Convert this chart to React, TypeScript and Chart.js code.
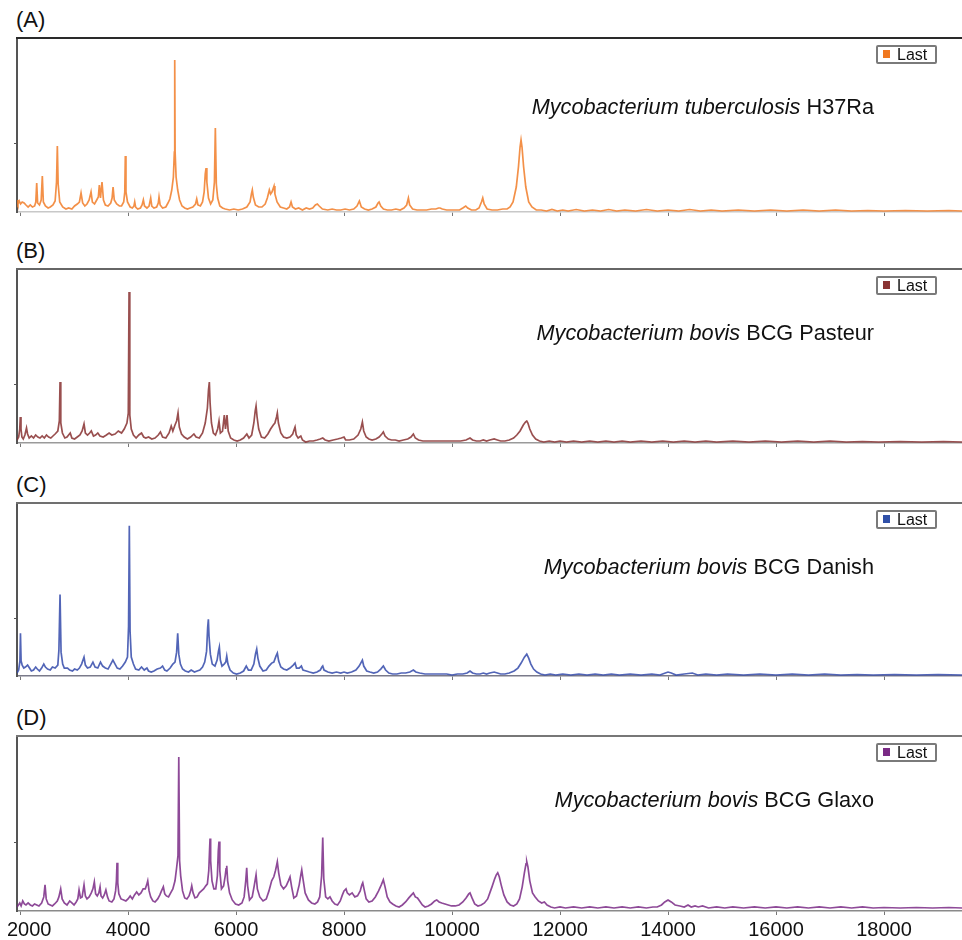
import React, { useEffect, useRef } from "react";
import { Chart, registerables } from "chart.js";

Chart.register(...registerables);
Chart.defaults.font.family = "'Liberation Sans', Arial, Helvetica, sans-serif";

// ---- axis data ----
const xMin = 1944;
const xMax = 19444;
const xTicks = [2000, 4000, 6000, 8000, 10000, 12000, 14000, 16000, 18000];
const yMax = 174;

// ---- spectra: [m/z, intensity (a.u.)] ----
const spectrumA = [
  [1944, 12], [1962, 8], [1985, 11], [2010, 8], [2040, 10], [2075, 9], [2110, 7], [2150, 5], [2190, 7], [2230, 5],
  [2270, 6], [2292, 10], [2309, 29], [2326, 9], [2360, 7], [2392, 12], [2413, 36], [2432, 10], [2470, 6], [2520, 4],
  [2560, 5], [2610, 7], [2650, 11], [2676, 30], [2691, 66], [2706, 28], [2735, 10], [2790, 5], [2850, 3], [2900, 4],
  [2960, 3], [3010, 6], [3060, 8], [3100, 10], [3130, 19], [3160, 9], [3200, 6], [3240, 8], [3280, 12], [3315, 20],
  [3340, 10], [3380, 8], [3420, 12], [3450, 15], [3469, 27], [3490, 14], [3518, 30], [3545, 12], [3580, 7], [3630, 6],
  [3680, 9], [3705, 14], [3723, 25], [3745, 12], [3790, 8], [3840, 6], [3880, 6], [3920, 10], [3940, 20], [3950, 56],
  [3962, 20], [3990, 10], [4040, 5], [4080, 4], [4110, 6], [4124, 10], [4140, 5], [4180, 3], [4230, 4], [4260, 7],
  [4284, 12], [4305, 6], [4350, 4], [4390, 6], [4420, 14], [4440, 6], [4480, 4], [4530, 5], [4560, 9], [4574, 15],
  [4595, 7], [4640, 4], [4700, 5], [4740, 9], [4775, 13], [4810, 22], [4840, 35], [4858, 60], [4865, 152], [4872, 60],
  [4890, 35], [4920, 22], [4955, 12], [5000, 6], [5050, 4], [5100, 3], [5150, 4], [5200, 5], [5250, 8], [5272, 13],
  [5295, 7], [5340, 6], [5380, 10], [5410, 20], [5430, 38], [5445, 44], [5460, 30], [5490, 14], [5530, 8], [5570, 12],
  [5600, 30], [5617, 84], [5635, 28], [5660, 14], [5700, 6], [5750, 4], [5800, 3], [5880, 2], [5960, 3], [6040, 2],
  [6120, 3], [6200, 5], [6260, 10], [6285, 18], [6302, 22], [6320, 15], [6360, 7], [6420, 5], [6480, 5], [6540, 8],
  [6580, 14], [6617, 22], [6640, 18], [6665, 20], [6704, 26], [6720, 18], [6760, 10], [6820, 5], [6880, 4], [6940, 3],
  [6990, 5], [7019, 10], [7045, 5], [7100, 3], [7160, 4], [7230, 2], [7300, 4], [7360, 3], [7420, 4], [7470, 7],
  [7506, 8], [7540, 6], [7600, 3], [7700, 2], [7780, 3], [7860, 2], [7940, 2], [8020, 3], [8100, 2], [8180, 3],
  [8240, 6], [8284, 11], [8320, 5], [8380, 3], [8450, 2], [8520, 3], [8590, 5], [8630, 9], [8649, 10], [8680, 6],
  [8730, 3], [8800, 2], [8880, 2], [8960, 3], [9040, 2], [9110, 4], [9160, 7], [9192, 14], [9215, 7], [9270, 3],
  [9350, 2], [9440, 2], [9530, 2], [9620, 3], [9700, 3], [9750, 4], [9778, 4], [9820, 3], [9900, 2], [9980, 2],
  [10060, 2], [10140, 2], [10200, 4], [10254, 6], [10290, 4], [10360, 2], [10440, 2], [10500, 4], [10545, 10], [10569, 14],
  [10595, 8], [10650, 3], [10740, 2], [10840, 2], [10940, 3], [11020, 3], [11075, 5], [11130, 10], [11190, 25], [11230, 45],
  [11260, 65], [11278, 72], [11296, 65], [11326, 45], [11366, 25], [11420, 10], [11480, 5], [11560, 2], [11650, 2], [11750, 1],
  [11850, 2.5], [11950, 1], [12050, 2], [12150, 1], [12300, 2.5], [12450, 1], [12600, 2], [12750, 1], [12900, 2.5], [13050, 1],
  [13200, 2], [13400, 1], [13600, 2.5], [13800, 1], [14000, 2], [14200, 1], [14400, 2.5], [14600, 1], [14800, 2], [15000, 1],
  [15300, 2], [15600, 1], [15900, 2], [16200, 1], [16500, 2], [16800, 1], [17100, 2], [17400, 1], [17700, 1.5], [18000, 1],
  [18400, 1.5], [18800, 1], [19200, 1.5], [19444, 1],
];

const spectrumB = [
  [1944, 3], [1975, 6], [1995, 14], [2005, 26], [2018, 14], [2035, 6], [2060, 4], [2090, 8], [2120, 15], [2140, 9],
  [2170, 5], [2210, 7], [2250, 5], [2290, 8], [2330, 6], [2370, 5], [2410, 7], [2450, 5], [2490, 8], [2530, 6],
  [2570, 5], [2610, 7], [2650, 9], [2700, 12], [2728, 22], [2741, 61], [2755, 20], [2785, 10], [2830, 5], [2870, 6],
  [2930, 10], [2960, 5], [3010, 4], [3060, 6], [3110, 8], [3150, 12], [3185, 19], [3210, 10], [3250, 8], [3290, 10],
  [3320, 12], [3360, 7], [3400, 8], [3440, 10], [3480, 7], [3540, 6], [3600, 8], [3650, 10], [3700, 8], [3760, 9],
  [3820, 12], [3880, 10], [3930, 14], [3980, 20], [4005, 30], [4019, 151], [4033, 28], [4060, 14], [4100, 8], [4150, 5],
  [4200, 8], [4250, 10], [4290, 6], [4330, 5], [4380, 6], [4440, 4], [4500, 5], [4560, 8], [4600, 11], [4640, 6],
  [4700, 5], [4760, 10], [4800, 17], [4830, 12], [4870, 18], [4900, 22], [4926, 30], [4950, 16], [4990, 9], [5040, 6],
  [5100, 4], [5160, 6], [5220, 9], [5260, 6], [5320, 5], [5380, 10], [5430, 20], [5470, 35], [5490, 53], [5506, 61],
  [5520, 40], [5545, 20], [5580, 10], [5620, 8], [5660, 14], [5685, 22], [5710, 10], [5750, 12], [5783, 28], [5805, 14],
  [5833, 28], [5855, 12], [5900, 5], [5960, 3], [6020, 2], [6080, 3], [6140, 5], [6200, 9], [6240, 5], [6290, 8],
  [6330, 20], [6355, 32], [6371, 37], [6390, 26], [6420, 14], [6470, 6], [6530, 5], [6590, 9], [6640, 14], [6690, 18],
  [6720, 20], [6750, 26], [6765, 30], [6785, 20], [6830, 10], [6880, 6], [6940, 5], [7000, 6], [7050, 9], [7080, 14],
  [7093, 16], [7115, 8], [7150, 5], [7200, 7], [7230, 3], [7290, 1], [7360, 2], [7430, 2], [7500, 3], [7560, 4],
  [7606, 5], [7650, 3], [7720, 2], [7800, 3], [7880, 4], [7950, 5], [8000, 6], [8030, 3], [8100, 3], [8180, 4],
  [8260, 8], [8310, 14], [8340, 21], [8365, 12], [8410, 6], [8460, 4], [8520, 3], [8590, 4], [8650, 6], [8700, 9],
  [8728, 11], [8760, 7], [8820, 4], [8880, 3], [8950, 3], [9020, 2], [9100, 3], [9180, 4], [9240, 6], [9284, 9],
  [9320, 5], [9380, 3], [9460, 2], [9560, 2], [9660, 2], [9760, 2], [9860, 2], [9960, 2], [10060, 2], [10160, 2],
  [10260, 3], [10333, 5], [10380, 3], [10450, 2], [10520, 2], [10580, 3], [10640, 2], [10700, 3], [10780, 4], [10840, 3],
  [10900, 2], [10980, 2], [11060, 3], [11140, 5], [11200, 8], [11260, 12], [11320, 18], [11360, 21], [11384, 22], [11405, 20],
  [11440, 14], [11490, 8], [11550, 4], [11620, 2], [11700, 1], [11800, 2], [11900, 1], [12000, 2], [12120, 1], [12250, 2],
  [12400, 1], [12550, 2], [12700, 1], [12850, 2], [13000, 1], [13150, 2], [13300, 1], [13500, 2], [13700, 1], [13900, 2],
  [14100, 1], [14300, 2], [14500, 1], [14700, 2], [14900, 1], [15200, 2], [15500, 1], [15800, 2], [16100, 1], [16400, 2],
  [16700, 1], [17000, 2], [17300, 1], [17600, 1.5], [17900, 1], [18300, 1.5], [18700, 1], [19100, 1.5], [19444, 1],
];

const spectrumC = [
  [1944, 3], [1975, 6], [1998, 15], [2008, 43], [2020, 15], [2040, 11], [2070, 8], [2100, 9], [2140, 11], [2175, 8],
  [2210, 5], [2250, 6], [2290, 9], [2320, 7], [2360, 5], [2400, 8], [2440, 12], [2470, 9], [2510, 7], [2560, 6],
  [2600, 9], [2650, 8], [2700, 11], [2720, 26], [2741, 82], [2760, 24], [2790, 12], [2820, 8], [2880, 8], [2920, 6],
  [2970, 5], [3010, 7], [3060, 6], [3100, 8], [3140, 12], [3185, 19], [3210, 11], [3250, 8], [3300, 9], [3350, 14],
  [3390, 9], [3440, 8], [3490, 14], [3530, 10], [3580, 8], [3630, 7], [3680, 12], [3720, 16], [3760, 12], [3800, 8],
  [3850, 7], [3900, 10], [3950, 14], [3990, 19], [4010, 50], [4024, 151], [4038, 45], [4060, 19], [4100, 12], [4140, 7],
  [4200, 6], [4250, 9], [4300, 6], [4350, 8], [4380, 5], [4430, 4], [4480, 5], [4540, 7], [4600, 8], [4640, 10],
  [4680, 6], [4720, 5], [4780, 8], [4830, 12], [4870, 14], [4900, 24], [4920, 43], [4940, 22], [4970, 12], [5010, 7],
  [5060, 5], [5120, 4], [5170, 6], [5230, 4], [5280, 5], [5330, 6], [5380, 9], [5420, 14], [5455, 25], [5475, 49],
  [5488, 57], [5500, 40], [5525, 22], [5560, 12], [5610, 10], [5650, 16], [5675, 25], [5691, 29], [5710, 16], [5740, 10],
  [5780, 12], [5810, 14], [5828, 20], [5850, 12], [5890, 6], [5950, 3], [6010, 2], [6080, 3], [6140, 5], [6190, 10],
  [6230, 6], [6280, 6], [6330, 12], [6360, 22], [6383, 27], [6405, 18], [6440, 10], [6500, 5], [6560, 6], [6610, 10],
  [6660, 13], [6700, 14], [6740, 20], [6765, 23], [6790, 15], [6830, 9], [6880, 7], [6940, 6], [7000, 8], [7060, 11],
  [7093, 13], [7120, 8], [7170, 8], [7210, 10], [7240, 6], [7300, 5], [7360, 4], [7430, 3], [7500, 4], [7560, 6],
  [7590, 9], [7606, 10], [7630, 6], [7700, 4], [7780, 3], [7860, 4], [7940, 3], [8000, 4], [8060, 3], [8140, 4],
  [8220, 6], [8280, 10], [8320, 14], [8340, 16], [8365, 10], [8420, 5], [8480, 4], [8550, 3], [8620, 4], [8680, 7],
  [8728, 10], [8770, 6], [8830, 3], [8900, 2], [8980, 2], [9060, 3], [9140, 3], [9220, 4], [9284, 6], [9330, 4],
  [9400, 3], [9500, 2], [9600, 2], [9700, 2], [9800, 2], [9900, 2], [10000, 1], [10100, 2], [10200, 2], [10280, 3],
  [10333, 5], [10380, 3], [10450, 2], [10520, 2], [10580, 3], [10640, 2], [10700, 3], [10780, 4], [10840, 3], [10900, 2],
  [10980, 2], [11060, 3], [11150, 5], [11220, 8], [11280, 13], [11340, 19], [11384, 22], [11420, 18], [11460, 12], [11510, 7],
  [11570, 4], [11640, 2], [11720, 1], [11820, 2], [11920, 1], [12050, 2], [12200, 1], [12350, 2], [12500, 1], [12650, 2],
  [12800, 1], [12950, 2], [13100, 1], [13300, 2], [13500, 1], [13700, 2], [13850, 1], [13950, 3], [14000, 4], [14060, 3],
  [14150, 1], [14300, 2], [14450, 3], [14550, 1], [14700, 2], [14900, 1], [15100, 2], [15400, 1], [15700, 2], [16000, 1],
  [16300, 2], [16600, 1], [16900, 2], [17200, 1], [17500, 1.5], [17800, 1], [18200, 1.5], [18600, 1], [19000, 1.5], [19444, 1],
];

const spectrumD = [
  [1944, 4], [1970, 6], [1995, 8], [2020, 5], [2050, 10], [2080, 7], [2110, 6], [2150, 8], [2190, 6], [2230, 5],
  [2270, 7], [2310, 6], [2350, 5], [2400, 8], [2440, 14], [2463, 26], [2485, 12], [2520, 7], [2560, 6], [2600, 5],
  [2640, 7], [2690, 10], [2720, 14], [2753, 22], [2780, 12], [2820, 8], [2870, 6], [2920, 10], [2960, 8], [3000, 6],
  [3040, 9], [3070, 12], [3093, 21], [3120, 13], [3150, 14], [3185, 26], [3210, 15], [3240, 12], [3280, 14], [3320, 18],
  [3350, 22], [3376, 29], [3400, 17], [3430, 15], [3460, 18], [3482, 24], [3500, 15], [3530, 13], [3560, 16], [3590, 21],
  [3620, 14], [3650, 10], [3700, 9], [3740, 12], [3770, 20], [3785, 30], [3796, 48], [3810, 28], [3830, 17], [3870, 12],
  [3920, 11], [3960, 10], [4000, 12], [4040, 15], [4080, 12], [4120, 16], [4160, 19], [4200, 16], [4240, 18], [4280, 22],
  [4320, 22], [4345, 26], [4365, 30], [4390, 20], [4420, 14], [4460, 10], [4500, 9], [4550, 12], [4590, 16], [4620, 20],
  [4654, 24], [4680, 17], [4710, 15], [4750, 14], [4790, 18], [4830, 22], [4870, 30], [4900, 43], [4925, 55], [4940, 153],
  [4955, 50], [4975, 35], [5010, 20], [5050, 13], [5090, 12], [5130, 15], [5160, 20], [5180, 25], [5205, 18], [5240, 13],
  [5280, 14], [5320, 18], [5360, 20], [5400, 22], [5440, 25], [5470, 27], [5495, 40], [5510, 60], [5519, 72], [5530, 50],
  [5555, 30], [5590, 22], [5625, 22], [5655, 35], [5672, 60], [5685, 69], [5700, 40], [5730, 22], [5770, 25], [5800, 35],
  [5815, 42], [5828, 45], [5845, 30], [5880, 18], [5930, 11], [5990, 7], [6050, 6], [6110, 8], [6150, 14], [6180, 30],
  [6198, 43], [6215, 25], [6250, 11], [6300, 14], [6340, 26], [6371, 36], [6395, 22], [6440, 14], [6500, 10], [6560, 12],
  [6610, 20], [6660, 30], [6700, 34], [6730, 40], [6750, 45], [6765, 49], [6790, 38], [6830, 26], [6880, 22], [6930, 25],
  [6970, 30], [7000, 34], [7030, 24], [7070, 13], [7120, 15], [7170, 26], [7200, 36], [7217, 41], [7240, 32], [7280, 18],
  [7340, 11], [7400, 8], [7460, 7], [7510, 9], [7550, 14], [7585, 35], [7606, 73], [7625, 32], [7660, 14], [7700, 12],
  [7740, 14], [7780, 10], [7830, 7], [7880, 6], [7930, 10], [7970, 16], [8000, 20], [8037, 22], [8060, 18], [8100, 16],
  [8150, 18], [8200, 14], [8250, 15], [8300, 20], [8330, 26], [8347, 28], [8370, 22], [8410, 12], [8460, 9], [8520, 10],
  [8580, 14], [8640, 20], [8690, 26], [8728, 31], [8760, 24], [8800, 14], [8850, 9], [8900, 7], [8960, 5], [9020, 4],
  [9080, 6], [9140, 9], [9200, 13], [9250, 16], [9284, 18], [9320, 14], [9360, 13], [9400, 10], [9450, 6], [9500, 4],
  [9560, 5], [9620, 7], [9680, 10], [9717, 11], [9760, 9], [9810, 8], [9870, 7], [9930, 6], [9990, 5], [10060, 5],
  [10130, 6], [10200, 9], [10260, 13], [10310, 17], [10333, 18], [10370, 13], [10420, 7], [10480, 5], [10540, 6], [10600, 8],
  [10660, 12], [10700, 18], [10740, 24], [10790, 32], [10820, 36], [10846, 38], [10875, 34], [10910, 26], [10960, 16], [11020, 9],
  [11080, 6], [11140, 5], [11200, 7], [11250, 12], [11300, 24], [11340, 38], [11370, 47], [11384, 49], [11405, 44], [11440, 30],
  [11490, 18], [11540, 14], [11600, 10], [11660, 8], [11710, 9], [11760, 6], [11830, 4], [11900, 3], [12000, 4], [12100, 3],
  [12250, 4], [12400, 3], [12550, 4], [12700, 3], [12850, 4], [13000, 3], [13150, 4], [13300, 3], [13450, 4], [13600, 3],
  [13720, 4], [13800, 4], [13880, 6], [13940, 9], [14000, 11], [14060, 9], [14130, 6], [14220, 5], [14300, 4], [14370, 6],
  [14430, 4], [14500, 5], [14560, 4], [14640, 5], [14750, 3], [14900, 4], [15050, 3], [15200, 4], [15400, 3], [15600, 4],
  [15800, 3], [16000, 4], [16200, 3], [16400, 4], [16600, 3], [16800, 4], [17000, 3], [17200, 4], [17400, 3], [17600, 4],
  [17800, 3], [18000, 3.5], [18300, 3], [18600, 3.5], [18900, 3], [19200, 3.5], [19444, 3],
];

// ---- panel descriptions ----
const panelLabels = ["(A)", "(B)", "(C)", "(D)"];
const speciesNames = ["Mycobacterium tuberculosis", "Mycobacterium bovis", "Mycobacterium bovis", "Mycobacterium bovis"];
const strainNames = ["H37Ra", "BCG Pasteur", "BCG Danish", "BCG Glaxo"];
const lineColors = ["rgba(241,124,40,0.85)", "rgba(135,48,48,0.85)", "rgba(52,74,170,0.85)", "rgba(122,42,134,0.85)"];
const markerColors = ["#f07820", "#8a3333", "#3050a8", "#7a2a85"];
const spectra = [spectrumA, spectrumB, spectrumC, spectrumD];
const yTickValues = [69, 59, 58, 68];
const frameTops = [38, 269, 503, 736];
const frameBottoms = [212, 443, 676, 911];
const topBorderColors = ["#2a2a2a", "#666666", "#707070", "#777777"];
const bottomBorderColors = ["#c8c8c8", "#9a9a9a", "#7a7a8a", "#8a8a8a"];

const PAD_TOP = 3;
const FONT = "'Liberation Sans', Arial, sans-serif";

const topFramePlugin = {
  id: "topFrame",
  afterDraw(chart: any, _args: any, opts: any) {
    const { ctx, chartArea } = chart;
    ctx.save();
    ctx.strokeStyle = opts.color || "#333";
    ctx.lineWidth = 2;
    ctx.beginPath();
    ctx.moveTo(chartArea.left - 1, chartArea.top);
    ctx.lineTo(chartArea.right, chartArea.top);
    ctx.stroke();
    ctx.restore();
  },
};

// tick labels of the x scale, kept inside the picture (first label is nudged right like the original)
const xLabelPlugin = {
  id: "xLabels",
  afterDraw(chart: any, _args: any, opts: any) {
    if (!opts.show) return;
    const s = chart.scales.x;
    const ctx = chart.ctx;
    ctx.save();
    ctx.font = `20px ${FONT}`;
    ctx.fillStyle = "#111";
    ctx.textBaseline = "top";
    ctx.textAlign = "left";
    s.ticks.forEach((t: any) => {
      const label = String(t.value);
      const w = ctx.measureText(label).width;
      let x = s.getPixelForValue(t.value) - w / 2;
      x = Math.max(x, 7);
      x = Math.min(x, chart.width - w);
      ctx.fillText(label, x, s.top + 9);
    });
    ctx.restore();
  },
};

function SpectrumPanel({ index }: { index: number }) {
  const ref = useRef<HTMLCanvasElement | null>(null);
  const isLast = index === spectra.length - 1;
  const bottomSpace = isLast ? 30 : 6;
  const frameH = frameBottoms[index] - frameTops[index];
  const canvasH = PAD_TOP + frameH + bottomSpace;

  useEffect(() => {
    if (!ref.current) return;
    const chart = new Chart(ref.current, {
      type: "line",
      data: {
        datasets: [
          {
            label: "Last",
            data: spectra[index].map((p) => ({ x: p[0], y: p[1] })),
            borderColor: lineColors[index],
            borderWidth: 1.7,
            pointRadius: 0,
            tension: 0,
            fill: false,
          },
        ],
      },
      options: {
        responsive: false,
        animation: false,
        devicePixelRatio: 1,
        layout: { padding: { top: PAD_TOP, left: 0, right: 0, bottom: 0 } },
        plugins: {
          legend: { display: false },
          tooltip: { enabled: false },
          topFrame: { color: topBorderColors[index] },
          xLabels: { show: isLast },
        } as any,
        scales: {
          x: {
            type: "linear",
            min: xMin,
            max: xMax,
            afterBuildTicks: (s: any) => {
              s.ticks = xTicks.map((v) => ({ value: v }));
            },
            afterFit: (s: any) => {
              s.height = bottomSpace;
              s.paddingLeft = 0;
              s.paddingRight = 0;
            },
            border: { display: true, color: bottomBorderColors[index], width: 1.5 },
            grid: { display: true, drawOnChartArea: false, drawTicks: true, tickLength: 4, color: "#777" },
            ticks: { display: false },
          },
          y: {
            type: "linear",
            min: 0,
            max: yMax,
            afterBuildTicks: (s: any) => {
              s.ticks = [{ value: yTickValues[index] }];
            },
            afterFit: (s: any) => {
              s.width = 17;
              s.paddingTop = 0;
              s.paddingBottom = 0;
            },
            border: { display: true, color: "#555", width: 2 },
            grid: { display: true, drawOnChartArea: false, drawTicks: true, tickLength: 3, color: "#555" },
            ticks: { display: false },
          },
        },
      } as any,
      plugins: [topFramePlugin, xLabelPlugin],
    });
    return () => chart.destroy();
  }, [index]);

  const top = frameTops[index];
  return (
    <>
      <div
        style={{
          position: "absolute",
          left: 16,
          top: top - 29,
          fontSize: 22,
          lineHeight: "22px",
          fontFamily: FONT,
          color: "#111",
        }}
      >
        {panelLabels[index]}
      </div>
      <canvas
        ref={ref}
        width={962}
        height={canvasH}
        style={{ position: "absolute", left: 0, top: top - PAD_TOP, width: 962, height: canvasH }}
      />
      <div
        style={{
          position: "absolute",
          left: 0,
          width: 874,
          top: top + (index === 0 ? 69 : 64) - 13,
          textAlign: "right",
          fontSize: 21.7,
          lineHeight: "26px",
          fontFamily: FONT,
          color: "#111",
          whiteSpace: "nowrap",
        }}
      >
        <i>{speciesNames[index]}</i> {strainNames[index]}
      </div>
      <div
        style={{
          position: "absolute",
          left: 876,
          top: top + 7,
          width: 57,
          height: 15,
          border: "2px solid #7a7a7a",
          borderRadius: 2,
          background: "#fff",
          fontFamily: FONT,
          fontSize: 16,
          lineHeight: "15px",
          color: "#111",
        }}
      >
        <span
          style={{
            position: "absolute",
            left: 5,
            top: 3,
            width: 7,
            height: 8,
            background: markerColors[index],
          }}
        />
        <span style={{ position: "absolute", left: 19, top: 0 }}>Last</span>
      </div>
    </>
  );
}

export default function App() {
  return (
    <div style={{ position: "absolute", left: 0, top: 0, width: 962, height: 940, background: "#fff" }}>
      {spectra.map((_, i) => (
        <SpectrumPanel key={i} index={i} />
      ))}
    </div>
  );
}
